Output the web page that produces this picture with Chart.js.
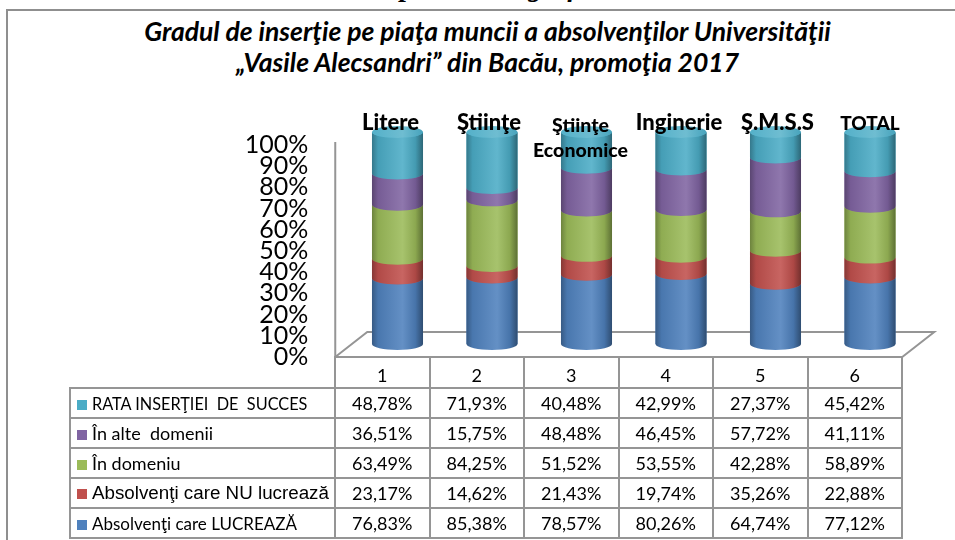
<!DOCTYPE html>
<html>
<head>
<meta charset="utf-8">
<script src="https://cdn.jsdelivr.net/npm/chart.js@4.4.0/dist/chart.umd.min.js"></script>
<style>
  body { margin: 0; background: #fff; overflow: hidden; }
  #wrap { position: relative; width: 955px; height: 540px; overflow: hidden; font-family: Lato, "Open Sans", sans-serif; }
  #frame { position: absolute; left: 6px; top: 9px; width: 1100px; height: 700px; border: 2px solid #8f8f8f; }
  #sup { position: absolute; left: 0; width: 980px; top: -29px; text-align: center; font: italic bold 28px "Liberation Serif", serif; }
  #title { position: absolute; left: 0; width: 975px; top: 16px; text-align: center; font: italic bold 26.5px Lato, sans-serif; line-height: 31px; }
  #chart { position: absolute; left: 0; top: 0; }
  .cat { position: absolute; width: 140px; text-align: center; font: 900 22px Lato, sans-serif; line-height: 25px; color: #000; }
  #tbl { position: absolute; left: 69px; top: 356px; border-collapse: collapse; table-layout: fixed; font: 18px Lato, sans-serif; }
  #tbl td { border: 2px solid #959595; height: 28px; padding: 0; text-align: center; white-space: pre; overflow: hidden; }
  #tbl td.lbl { text-align: left; padding-left: 6px; }
  #tbl td.blank { border-top: none; border-left: none; }
  #tbl tr.head td { height: 28px; vertical-align: bottom; padding-bottom: 1px; }
  .mk { display: inline-block; width: 10px; height: 10px; margin-right: 5px; vertical-align: 0px; }
</style>
</head>
<body>
<div id="wrap">
  <div id="frame"></div>
  <div id="sup">Reprezentare grafică</div>
  <div id="title">Gradul de inserţie pe piaţa muncii a absolvenţilor Universităţii<br>„Vasile Alecsandri” din Bacău, promoţia 2017</div>
  <canvas id="chart" width="955" height="540"></canvas>
  <table id="tbl"></table>
</div>
<script>
// categorii si valori citite din tabelul graficului
const categories = ['Litere', 'Ştiinţe', 'Ştiinţe\nEconomice', 'Inginerie', 'Ş.M.S.S', 'TOTAL'];
const columnNumbers = ['1', '2', '3', '4', '5', '6'];
const lucreaza = [76.83, 85.38, 78.57, 80.26, 64.74, 77.12];
const nuLucreaza = [23.17, 14.62, 21.43, 19.74, 35.26, 22.88];
const inDomeniu = [63.49, 84.25, 51.52, 53.55, 42.28, 58.89];
const inAlteDomenii = [36.51, 15.75, 48.48, 46.45, 57.72, 41.11];
const rataInsertiei = [48.78, 71.93, 40.48, 42.99, 27.37, 45.42];
const seriesNames = ['Absolvenţi care LUCREAZĂ', 'Absolvenţi care NU lucrează', 'În domeniu', 'În alte  domenii', 'RATA INSERŢIEI  DE  SUCCES'];
const seriesColors = ['#4F81BD', '#C0504D', '#9BBB59', '#8064A2', '#4BACC6'];
const yTicks = [0, 10, 20, 30, 40, 50, 60, 70, 80, 90, 100];

const series = [lucreaza, nuLucreaza, inDomeniu, inAlteDomenii, rataInsertiei];
// stivuire 100%: fiecare coloana impartita la totalul ei
const totals = categories.map((c, i) => series.reduce((s, arr) => s + arr[i], 0));

function shade(hex, p) {
  const n = parseInt(hex.slice(1), 16);
  let r = n >> 16, g = (n >> 8) & 255, b = n & 255;
  const f = v => p < 0 ? Math.round(v * (1 + p)) : Math.round(v + (255 - v) * p);
  return `rgb(${f(r)},${f(g)},${f(b)})`;
}

const RY = 6;     // raza verticala a elipselor
const DX = 15, DY = 13; // deplasarea 3D a cilindrilor fata de podea

// podeaua 3D si axa verticala
const floorPlugin = {
  id: 'floor',
  beforeDatasetsDraw(chart) {
    const { ctx, chartArea: a, scales: { y } } = chart;
    const y0 = y.getPixelForValue(0) + DY, y100 = y.getPixelForValue(100) + 10;
    const l = a.left - DX, r = a.right - DX;
    ctx.save();
    ctx.strokeStyle = '#959595';
    ctx.lineWidth = 2;
    ctx.beginPath();
    ctx.moveTo(l, y100); ctx.lineTo(l, y0);
    ctx.lineTo(l + 32, y0 - 25); ctx.lineTo(r + 32, y0 - 25); ctx.lineTo(r, y0);
    ctx.stroke();
    ctx.restore();
  }
};

// desenez cilindrii peste barele dreptunghiulare
const cylinderPlugin = {
  id: 'cylinders',
  afterDatasetsDraw(chart) {
    const ctx = chart.ctx;
    const n = chart.data.datasets.length;
    ctx.save();
    chart.data.datasets.forEach((ds, d) => {
      const meta = chart.getDatasetMeta(d);
      const col = seriesColors[d];
      meta.data.forEach(bar => {
        const { x, y, base, width } = bar.getProps(['x', 'y', 'base', 'width'], true);
        const l = x - width / 2, r = x + width / 2;
        const g = ctx.createLinearGradient(l, 0, r, 0);
        g.addColorStop(0, shade(col, -0.3));
        g.addColorStop(0.12, shade(col, -0.08));
        g.addColorStop(0.6, shade(col, 0.12));
        g.addColorStop(0.85, shade(col, -0.1));
        g.addColorStop(1, shade(col, -0.4));
        ctx.fillStyle = g;
        ctx.beginPath();
        ctx.moveTo(l, y);
        ctx.lineTo(l, base);
        ctx.ellipse(x, base, width / 2, RY, 0, Math.PI, 0, true);
        ctx.lineTo(r, y);
        ctx.ellipse(x, y, width / 2, RY, 0, 0, Math.PI, false);
        ctx.closePath();
        ctx.fill();
        if (d === n - 1) {
          const gt = ctx.createLinearGradient(l, 0, r, 0);
          gt.addColorStop(0, shade(col, 0.05));
          gt.addColorStop(0.6, shade(col, 0.2));
          gt.addColorStop(1, shade(col, -0.05));
          ctx.fillStyle = gt;
          ctx.beginPath();
          ctx.ellipse(x, y, width / 2, RY, 0, 0, Math.PI * 2);
          ctx.fill();
        }
      });
    });
    ctx.restore();
  }
};

const chart = new Chart(document.getElementById('chart'), {
  type: 'bar',
  data: {
    labels: categories,
    datasets: series.map((arr, d) => ({
      label: seriesNames[d],
      data: arr.map((v, i) => v / totals[i] * 100),
      backgroundColor: seriesColors[d],
      borderWidth: 0,
      categoryPercentage: 1,
      barPercentage: 0.54
    }))
  },
  options: {
    responsive: false,
    animation: false,
    events: [],
    layout: { padding: { left: 200, top: 132, right: 37.75, bottom: 196 } },
    plugins: { legend: { display: false }, tooltip: { enabled: false }, title: { display: false } },
    scales: {
      x: { stacked: true, display: false },
      y: {
        stacked: true,
        min: 0, max: 100,
        afterFit(s) { s.width = 150.25; },
        afterBuildTicks(s) { s.ticks = yTicks.map(v => ({ value: v })); },
        grid: { display: false, drawTicks: false },
        border: { display: false },
        ticks: {
          autoSkip: false,
          padding: 42,
          labelOffset: 13,
          color: '#000',
          font: { family: 'Lato', size: 25, lineHeight: 1 },
          callback: v => v + '%'
        }
      }
    }
  },
  plugins: [floorPlugin, cylinderPlugin]
});

// etichetele categoriilor deasupra cilindrilor
const wrap = document.getElementById('wrap');
const catShift = [-7, -3, -6, -2, 2, 0];
categories.forEach((c, i) => {
  const div = document.createElement('div');
  div.className = 'cat';
  div.innerHTML = c.split('\n').join('<br>');
  div.style.left = (chart.scales.x.getPixelForValue(i) - 70 + catShift[i]) + 'px';
  div.style.top = '109px';
  if (i === 5) { div.style.fontSize = '19px'; div.style.top = '110px'; }
  if (i === 2) { div.style.fontSize = '19.5px'; div.style.top = '112px'; }
  wrap.appendChild(div);
});

// tabelul de date de sub grafic
const fmt = v => v.toFixed(2).replace('.', ',') + '%';
const labelFonts = ['font-size:17px', 'font-family:\'Liberation Sans\';font-size:18.8px', '', '', 'font-size:16.3px'];
const tbl = document.getElementById('tbl');
let html = '<colgroup><col style="width:265px">' + columnNumbers.map(() => '<col style="width:94.5px">').join('') + '</colgroup>';
html += '<tr class="head"><td class="blank"></td>' + columnNumbers.map(n => `<td>${n}</td>`).join('') + '</tr>';
for (let d = series.length - 1; d >= 0; d--) {
  const style = labelFonts[d] ? ` style="${labelFonts[d]}"` : '';
  html += `<tr><td class="lbl"${style}><span class="mk" style="background:${seriesColors[d]}"></span>${seriesNames[d]}</td>` +
    series[d].map(v => `<td>${fmt(v)}</td>`).join('') + '</tr>';
}
tbl.innerHTML = html;
</script>
</body>
</html>
